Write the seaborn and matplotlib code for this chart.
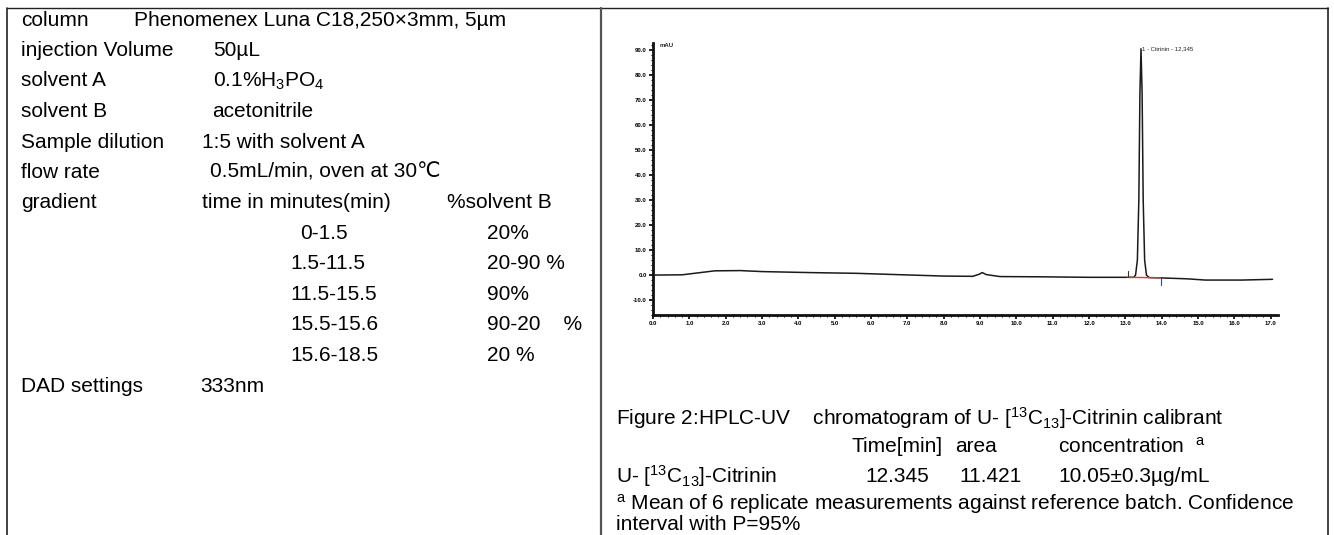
import numpy as np
import pandas as pd
import matplotlib
matplotlib.use("Agg")
import matplotlib.pyplot as plt
import seaborn as sns

# chromatogram (time in min, signal in mAU)
base_time = [0.0, 0.8, 1.7, 2.4, 3.0, 4.3, 5.6, 6.9, 8.0, 8.8, 8.97, 9.06, 9.17, 9.55,
             10.7, 12.0, 12.9, 13.23, 13.28, 13.33, 13.37, 13.40, 13.43, 13.46, 13.49,
             13.53, 13.58, 13.65, 13.9, 14.7, 15.2, 16.2, 17.05]
signal = [0.0, 0.1, 1.7, 1.8, 1.4, 1.0, 0.7, 0.1, -0.4, -0.5, 0.3, 1.0, 0.2, -0.6,
          -0.7, -0.9, -0.9, -0.9, 0.0, 6.0, 30.0, 73.0, 90.7, 73.0, 30.0,
          6.0, 0.0, -1.0, -1.1, -1.5, -2.0, -2.0, -1.7]
integ_time = [13.06, 13.97]
integ_level = [-0.9, -1.1]
peak_label = "1 - Citrinin - 12,345"
y_ticks = [-10, 0, 10, 20, 30, 40, 50, 60, 70, 80, 90]
x_ticks = list(range(0, 18))

# left table
left_labels = ["column", "injection Volume", "solvent A", "solvent B", "Sample dilution",
               "flow rate", "gradient"]
left_values = ["Phenomenex Luna C18,250\u00d73mm, 5\u00b5m", "50\u00b5L",
               r"0.1%H$\mathregular{_3}$PO$\mathregular{_4}$", "acetonitrile",
               "1:5 with solvent A", "0.5mL/min, oven at 30\u2103", "time in minutes(min)"]
grad_times = ["0-1.5", "1.5-11.5", "11.5-15.5", "15.5-15.6", "15.6-18.5"]
grad_b = ["20%", "20-90 %", "90%", "90-20    %", "20 %"]

sns.set_theme(style="white")
plt.rcParams['font.family'] = ['Liberation Sans', 'DejaVu Sans']
plt.rcParams['mathtext.fontset'] = 'custom'
plt.rcParams['mathtext.rm'] = 'Liberation Sans'
plt.rcParams['mathtext.it'] = 'Liberation Sans'

W, H = 1334, 535
fig = plt.figure(figsize=(W / 100, H / 100), dpi=100)

def fx(px):
    return px / W

def fy(py):
    return 1 - py / H

fs = 15

def put(x, y, s, **kw):
    fig.text(fx(x), fy(y), s, fontsize=fs, va="center", ha="left", color="black", **kw)

# frame lines
fig.add_artist(plt.Line2D([fx(7), fx(1328)], [fy(8), fy(8)], color="#222222", lw=1))
fig.add_artist(plt.Line2D([fx(7), fx(7)], [fy(8), fy(535)], color="#222222", lw=1.2))
fig.add_artist(plt.Line2D([fx(601), fx(601)], [fy(8), fy(535)], color="#555555", lw=1.6))
fig.add_artist(plt.Line2D([fx(1328), fx(1328)], [fy(8), fy(535)], color="#222222", lw=1.2))

row_y = [20 + 30.5 * i for i in range(13)]
val_x = [134, 213, 213, 212, 202, 210, 202]
for i, (lab, val) in enumerate(zip(left_labels, left_values)):
    put(21, row_y[i], lab)
    put(val_x[i], row_y[i], val)
put(447, row_y[6], "%solvent B")
for i, (t, b) in enumerate(zip(grad_times, grad_b)):
    put(300 if i == 0 else 290, row_y[7 + i], t)
    put(487, row_y[7 + i], b)
put(21, row_y[12], "DAD settings")
put(200, row_y[12], "333nm")

# chromatogram
ax = fig.add_axes([fx(653), fy(315), fx(1278) - fx(653), fy(43) - fy(315)])
df = pd.DataFrame({"time": base_time, "mAU": signal})
sns.lineplot(data=df, x="time", y="mAU", ax=ax, color="#1a1a1a", lw=1.1)
ax.plot(integ_time, integ_level, color="#e8304a", lw=1.0)
ax.plot([integ_time[0], integ_time[0]], [integ_level[0], integ_level[0] + 2.5], color="#333333", lw=0.8)
ax.plot([integ_time[1], integ_time[1]], [integ_level[1], integ_level[1] - 3], color="#334488", lw=0.8)
ax.text(13.45, 90.7, peak_label, fontsize=4.3, va="center", ha="left", color="#222222")
ax.set_xlim(0, 17.2)
ax.set_ylim(-16, 93)
ax.set_xticks(x_ticks)
ax.set_yticks(y_ticks)
ax.set_xticklabels([f"{v:.1f}" for v in x_ticks], fontsize=4.3, fontweight="bold")
ax.set_yticklabels([f"{v:.1f}" for v in y_ticks], fontsize=4.3, fontweight="bold")
ax.set_xticks(np.arange(0, 17.2, 0.2), minor=True)
ax.set_yticks(np.arange(-16, 93, 2), minor=True)
ax.tick_params(axis="both", which="major", direction="out", length=3, width=1.2, colors="black", pad=1.5)
ax.tick_params(axis="both", which="minor", direction="out", length=1.5, width=0.8, colors="black")
ax.tick_params(bottom=True, left=True, which="both")
ax.set_xlabel("")
ax.set_ylabel("")
for side in ["top", "right"]:
    ax.spines[side].set_visible(False)
for side in ["left", "bottom"]:
    ax.spines[side].set_linewidth(2)
    ax.spines[side].set_color("#111111")
ax.text(0.01, 1.0, "mAU", transform=ax.transAxes, fontsize=4.3, fontweight="bold", va="top")

# caption and table on the right
put(616, 418, "Figure 2:HPLC-UV    chromatogram of U- [$^{13}$C$\\mathregular{_{13}}$]-Citrinin calibrant")
put(851, 447, "Time[min]")
put(955, 447, "area")
put(1058, 447, "concentration  $^{a}$")
put(616, 476, "U- [$^{13}$C$\\mathregular{_{13}}$]-Citrinin")
put(865, 476, "12.345")
put(959, 476, "11.421")
put(1058, 476, "10.05\u00b10.3\u00b5g/mL")
put(616, 504, "$^{a}$ Mean of 6 replicate measurements against reference batch. Confidence")
put(616, 525, "interval with P=95%")

fig.savefig("out.png", dpi=100)
